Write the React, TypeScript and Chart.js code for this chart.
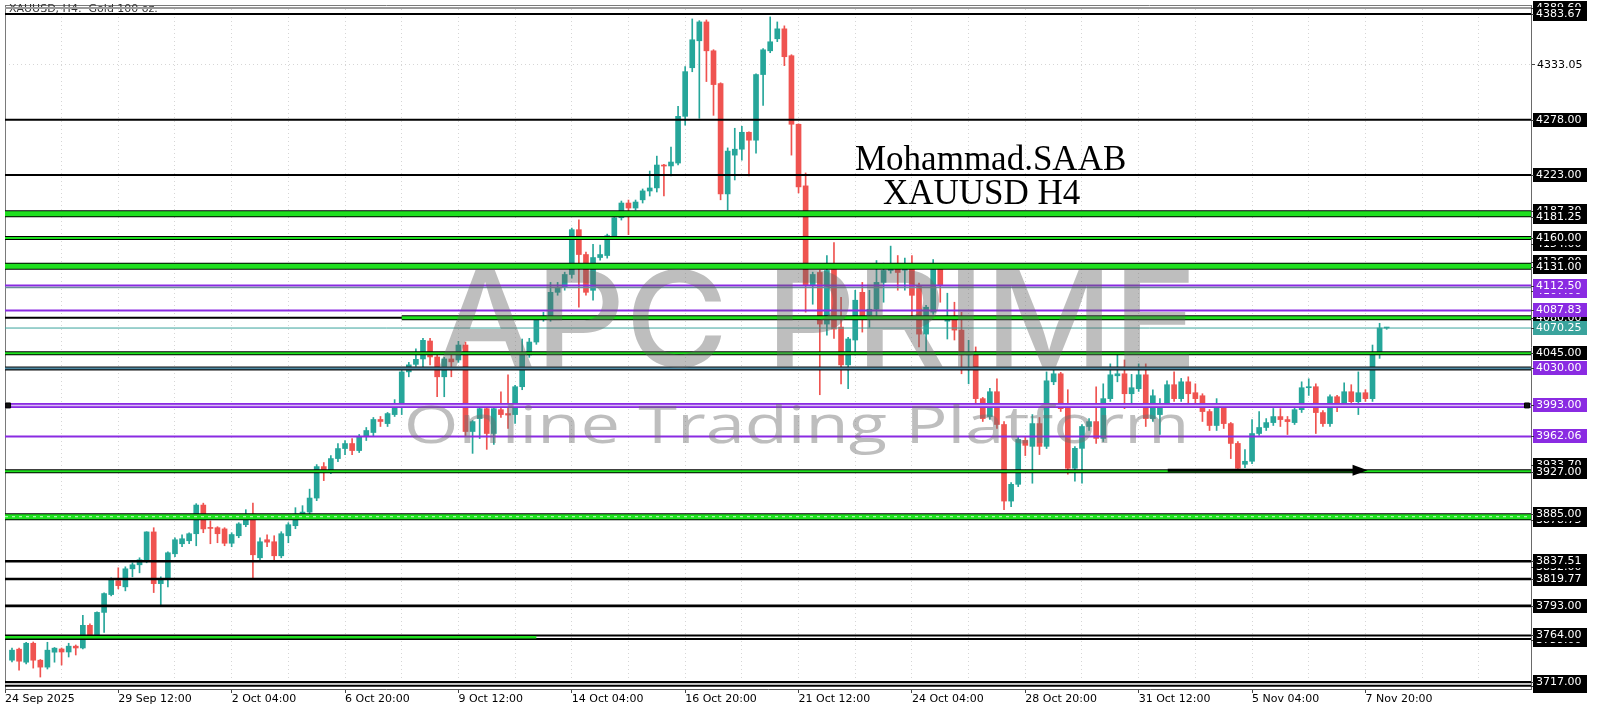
import React, { useEffect, useRef } from 'react';
import { Chart, registerables } from 'chart.js';

Chart.register(...registerables);

// ---------------- DATA ----------------
const OPEN = [
  3738.8, 3749.8, 3736.8, 3755.7, 3738.8, 3731.9, 3746.8, 3750.0, 3747.0, 3752.8,
  3751.0, 3773.6, 3763.5, 3786.5, 3804.3, 3818.2, 3812.0, 3830.0, 3834.0, 3838.0,
  3866.8, 3815.2, 3820.0, 3845.0, 3855.0, 3858.0, 3865.0, 3893.6, 3870.8, 3871.0,
  3869.8, 3855.5, 3863.0, 3874.0, 3884.6, 3841.0, 3859.0, 3857.0, 3843.0, 3863.0,
  3873.0, 3883.6, 3886.6, 3900.6, 3932.0, 3927.0, 3940.0, 3950.0, 3955.0, 3948.0,
  3962.0, 3966.0, 3979.0, 3974.9, 3983.9, 3991.8, 4026.5, 4034.0, 4039.4, 4057.3,
  4041.4, 4021.6, 4039.4, 4038.4, 4053.3, 3967.0, 3979.9, 3989.8, 3965.0, 3988.8,
  3984.9, 3983.9, 4011.7, 4043.4, 4056.3, 4079.1, 4079.1, 4105.9, 4110.9, 4123.7,
  4168.4, 4143.6, 4107.9, 4140.6, 4142.6, 4162.4, 4180.3, 4195.0, 4190.0, 4198.2,
  4207.0, 4210.1, 4232.9, 4232.0, 4234.9, 4281.5, 4330.0, 4356.9, 4375.7, 4346.9,
  4314.2, 4204.1, 4242.8, 4248.7, 4265.6, 4257.7, 4323.2, 4346.9, 4358.9, 4368.8,
  4342.0, 4273.6, 4212.1, 4112.9, 4125.7, 4074.2, 4128.7, 4071.2, 4033.5, 4058.3,
  4105.9, 4083.1, 4089.0, 4115.8, 4127.7, 4132.7, 4128.0, 4130.7, 4112.9, 4064.2,
  4086.1, 4129.7, 4077.1, 4082.1, 4068.2, 4043.4, 4044.4, 3999.8, 3981.9, 4006.7,
  3974.0, 3897.6, 3914.3, 3958.1, 3952.2, 3974.9, 3952.2, 4016.6, 4024.6, 3993.8,
  3930.3, 3950.2, 3972.0, 3976.9, 3960.1, 3999.8, 4022.6, 4024.6, 4004.7, 4009.7,
  4023.6, 3979.9, 3983.9, 3994.8, 4013.7, 3999.8, 4016.6, 4005.7, 4002.7, 3986.9,
  3973.0, 3990.8, 3974.9, 3955.1, 3934.3, 3937.3, 3965.0, 3971.0, 3975.9, 3981.9,
  3978.9, 3975.9, 3988.8, 4010.7, 4011.7, 3985.9, 3974.9, 4001.7, 3993.8, 4006.7,
  3996.8, 4005.7, 3999.8, 4044.4, 4070.25,
];
const HIGH = [
  3751, 3751, 3756.7, 3757, 3739.5, 3756.7, 3751.5, 3751, 3755.7, 3754,
  3783.5, 3775, 3787, 3806, 3821, 3831, 3832, 3836, 3841, 3867,
  3871, 3822, 3847, 3861, 3864, 3866, 3895, 3895.5, 3877.8, 3872,
  3871, 3866, 3876, 3889, 3895.6, 3861, 3864, 3863, 3867, 3876,
  3891, 3893, 3909.5, 3934, 3936, 3943, 3955, 3958, 3960, 3964,
  3971, 3981, 3982, 3986, 3998.8, 4028, 4036, 4049.4, 4060, 4060,
  4043, 4041, 4043, 4057, 4056.3, 3978, 3991, 3992, 3991, 4006.7,
  4023.6, 4013, 4059.3, 4060, 4080, 4086, 4115.8, 4115.8, 4126, 4170,
  4178.3, 4146, 4153.8, 4153, 4164, 4182, 4197, 4198, 4198, 4209,
  4226.9, 4241.8, 4233.5, 4250.7, 4291.4, 4331.1, 4378.7, 4377, 4377.7, 4348,
  4315, 4250, 4269.6, 4271.6, 4266, 4324, 4349, 4380.7, 4375.7, 4371.8,
  4343, 4274, 4225, 4126, 4128, 4142.6, 4155.5, 4100.9, 4061, 4107.9,
  4115.8, 4107.9, 4137.6, 4135, 4152, 4142.6, 4140, 4142.6, 4115, 4093,
  4138.6, 4131, 4105, 4096, 4086, 4058, 4051.4, 4001, 4010, 4019.6,
  3977, 3916, 3962, 3962, 3983.9, 3981, 4026.5, 4028.5, 4026, 4008.7,
  3952, 3974, 3980, 4011.7, 4014.6, 4034.5, 4043.4, 4038.4, 4024, 4034.5,
  4034.5, 4008.7, 3999.8, 4017.6, 4026.5, 4020, 4021.6, 4014.6, 4004.7, 3989,
  3999.8, 3992, 3976, 3957, 3949, 3978.9, 3986.9, 3979.9, 3990, 3989.8,
  3982, 3992, 4016.6, 4019.6, 4014.6, 3988, 4003.7, 4003, 4015.6, 4013.7,
  4026.5, 4008.7, 4053.3, 4075, 4071,
];
const LOW = [
  3737, 3728.9, 3735, 3730.9, 3722, 3730, 3736.8, 3734, 3742, 3744,
  3750, 3760, 3762, 3766.6, 3803, 3810, 3808, 3822, 3826, 3836,
  3806.3, 3793, 3812, 3842, 3852, 3855, 3853, 3866, 3855, 3856,
  3853, 3852, 3861, 3872, 3821, 3838, 3852, 3838, 3841, 3856,
  3870, 3880, 3884, 3898, 3918, 3925, 3937, 3944, 3944, 3946,
  3958, 3962, 3972, 3972, 3982, 3983.9, 4021.6, 4032, 4029.5, 4033.5,
  4001.7, 4001.7, 4021.6, 4036, 3962.1, 3945.2, 3960, 3949.2, 3954, 3981,
  3970, 3975, 4008.7, 4041, 4054, 4077, 4077, 4103, 4108, 4120,
  4091, 4103, 4098, 4138, 4140, 4160, 4178, 4163.4, 4188, 4195,
  4202, 4206, 4202.1, 4222, 4233, 4272.6, 4326, 4279.5, 4316.2, 4282.5,
  4198.2, 4188.3, 4218, 4237.8, 4222, 4244.8, 4292.4, 4345, 4356, 4332.1,
  4242.8, 4205.1, 4086.1, 4094, 4003.7, 4063.2, 4060, 4014.6, 4009.7, 4043.4,
  4066.2, 4071, 4079, 4096, 4125, 4108, 4108, 4080, 4051.4, 4044.4,
  4084, 4096, 4059.3, 4058.3, 4024.6, 4014.6, 3993.8, 3977, 3979, 3970,
  3889, 3892, 3912, 3943, 3915.4, 3944, 3950, 4013.7, 3987, 3924.4,
  3917.4, 3915.4, 3968, 3955, 3957, 3997, 4016.6, 3989.8, 3994.8, 4007,
  3972, 3977, 3964, 3993, 3997, 3997, 3994.8, 3993.8, 3977, 3968,
  3968, 3970, 3940, 3927, 3931, 3935, 3963, 3968, 3973, 3972,
  3964, 3974, 3986, 4003, 3965, 3972, 3972, 3986.9, 3991, 3991.8,
  3983.9, 3997, 3997, 4040, 4069,
];
const CLOSE = [
  3748.8, 3737.8, 3755.7, 3738.8, 3731.9, 3748.8, 3750.8, 3747.0, 3752.8, 3751.0,
  3773.6, 3762.7, 3786.5, 3805.3, 3819.2, 3813.2, 3830.0, 3834.0, 3839.0, 3866.8,
  3815.2, 3820.0, 3846.0, 3859.0, 3860.0, 3865.0, 3893.6, 3869.8, 3870.3, 3865.0,
  3855.5, 3864.2, 3874.8, 3882.6, 3844.0, 3857.0, 3856.6, 3843.0, 3865.0, 3874.0,
  3884.6, 3886.6, 3900.6, 3932.0, 3927.0, 3940.0, 3950.0, 3955.0, 3948.0, 3962.0,
  3968.0, 3979.0, 3977.0, 3984.9, 3991.8, 4026.5, 4033.5, 4039.0, 4058.0, 4041.4,
  4021.6, 4039.4, 4036.5, 4053.3, 3967.0, 3976.9, 3989.8, 3965.0, 3989.8, 3983.9,
  3983.4, 4011.7, 4043.4, 4056.3, 4078.1, 4080.1, 4105.9, 4110.9, 4123.7, 4168.4,
  4143.6, 4105.9, 4140.6, 4143.6, 4162.4, 4180.3, 4195.0, 4190.0, 4196.0, 4207.1,
  4210.0, 4232.9, 4231.9, 4235.9, 4281.5, 4326.1, 4357.9, 4375.7, 4346.9, 4313.2,
  4204.1, 4246.8, 4248.7, 4265.6, 4257.7, 4323.2, 4347.9, 4355.9, 4368.8, 4341.0,
  4273.6, 4211.1, 4112.9, 4123.7, 4074.2, 4127.7, 4069.2, 4033.5, 4059.3, 4098.0,
  4081.1, 4089.0, 4115.8, 4127.7, 4130.7, 4125.7, 4131.0, 4102.9, 4064.2, 4091.0,
  4128.7, 4112.9, 4082.1, 4068.2, 4043.4, 4044.4, 3999.8, 3979.9, 4006.7, 3974.0,
  3897.6, 3914.3, 3959.1, 3953.2, 3974.9, 3952.2, 4017.6, 4024.6, 3989.8, 3930.3,
  3950.2, 3972.0, 3976.9, 3960.1, 3999.8, 4023.6, 4024.6, 4004.7, 4010.7, 4023.6,
  3979.9, 4002.7, 3994.8, 4013.7, 3999.8, 4016.6, 4004.7, 3999.8, 3986.9, 3973.0,
  3990.8, 3974.9, 3955.1, 3930.3, 3937.3, 3965.0, 3971.0, 3975.9, 3981.9, 3978.9,
  3976.9, 3988.8, 4010.7, 4011.7, 3985.9, 3974.9, 4001.7, 3993.8, 4006.7, 3996.8,
  4005.7, 3999.8, 4043.4, 4070.25, 4070.25,
];

// x-axis: candle index positions of the time labels
const X_LABEL_POS = [-0.98, 15, 31, 47, 63, 79, 95, 111, 127, 143, 159, 175, 191];
const X_LABELS = [
  '24 Sep 2025', '29 Sep 12:00', '2 Oct 04:00', '6 Oct 20:00', '9 Oct 12:00', '14 Oct 04:00',
  '16 Oct 20:00', '21 Oct 12:00', '24 Oct 04:00', '28 Oct 20:00', '31 Oct 12:00', '5 Nov 04:00', '7 Nov 20:00',
];
const X_GRID_POS = [7, 23, 39, 55, 71, 87, 103, 119, 135, 151, 167, 183, 199, 207];
const Y_TICKS = [4333.05];

// horizontal levels grouped by kind
const GRAY_LEVELS = [4389.6];
const BLACK_LEVELS = [4383.67, 4278, 4223, 3763.5, 3760, 3717, 3713.2, 4080.6];
const HEAVY_BLACK_LEVELS = [3837.51, 3819.77, 3793];
const THIN_BANDS = [4160, 4045, 3927.3];
const WIDE_BANDS = [4184.2, 4132, 3882];
const PARTIAL_BANDS = [4080.6];
const PARTIAL_BAND_FROM = [55];
const PURPLE_LEVELS = [4112.8, 4087.83, 3962.06];
const PURPLE_DOUBLE = [3993];
const STEEL_LEVELS = [4110.7];
const BLACK_STEEL = [4030];
const GRAY_INNER = [3715.1];
const BID_LEVEL = [4070.25];
const GREEN_SEGMENTS = [3761.8];
const GREEN_SEGMENT_TO = [74];

const ARROW_FROM = 163.1;
const ARROW_TO = 191.3;
const ARROW_PRICE = 3928.3;
const MARKER_X = [-0.55, 213.8];
const MARKER_Y = [3993, 3993];

// price labels at right axis
const HIDDEN_LABEL_PRICES = [4389.6, 4187.3, 4154, 4136, 4107, 4080, 3933.7, 3878.75, 3832, 3759, 3713];
const HIDDEN_LABEL_KIND = ['k', 'k', 'k', 'k', 'p', 'k', 'k', 'k', 'k', 'k', 'k'];
const LABEL_PRICES = [4383.67, 4278, 4223, 4181.25, 4160, 4131, 4112.5, 4087.83, 4070.25, 4045, 4030, 3993, 3962.06, 3927, 3885, 3837.51, 3819.77, 3793, 3764, 3717];
const LABEL_KIND = ['k', 'k', 'k', 'k', 'k', 'k', 'p', 'p', 't', 'k', 'p', 'p', 'p', 'k', 'k', 'k', 'k', 'k', 'k', 'k'];

const HEADER = 'XAUUSD, H4:  Gold 100 oz.';
const AUTHOR = 'Mohammad.SAAB';
const SYMBOL_NOTE = 'XAUUSD H4';
const WM_TITLE = 'APC PRIME';
const WM_SUB = 'Online Trading Platform';

// ---------------- STYLE / LAYOUT ----------------
const X_MIN = -0.986;
const X_MAX = 214.366;
const Y_MIN = 3710.06;
const Y_MAX = 4392.6;

const UP = '#26a69a';
const DOWN = '#ef5350';
const LIME = '#1fe01f';
const PURPLE = '#8a2be2';
const TEAL = '#3aa39c';
const FONT = '"DejaVu Sans", "Liberation Sans", sans-serif';

function labelFor(v: number) {
  for (let i = 0; i < X_LABEL_POS.length; i++) if (Math.abs(X_LABEL_POS[i] - v) < 0.01) return X_LABELS[i];
  return '';
}

function fitText(ctx: CanvasRenderingContext2D, text: string, family: string, weight: string,
  x1: number, x2: number, capTop: number, baseline: number, color: string) {
  ctx.save();
  ctx.font = `${weight} 100px ${family}`;
  const capRatio = ctx.measureText('H').actualBoundingBoxAscent / 100 || 0.72;
  const size = (baseline - capTop) / capRatio;
  ctx.font = `${weight} ${size}px ${family}`;
  const m = ctx.measureText(text);
  const w = m.actualBoundingBoxLeft + m.actualBoundingBoxRight;
  const sx = (x2 - x1) / w;
  ctx.translate(x1, baseline);
  ctx.scale(sx, 1);
  ctx.fillStyle = color;
  ctx.textAlign = 'left';
  ctx.textBaseline = 'alphabetic';
  ctx.fillText(text, m.actualBoundingBoxLeft, 0);
  ctx.restore();
}

const overlayPlugin = {
  id: 'mt4overlay',
  beforeDatasetsDraw(chart: any) {
    const { ctx, chartArea } = chart;
    ctx.save();
    ctx.strokeStyle = '#7a7a7a';
    ctx.lineWidth = 1;
    ctx.beginPath();
    ctx.moveTo(chartArea.left + 0.5, chartArea.top);
    ctx.lineTo(chartArea.left + 0.5, chartArea.bottom);
    ctx.moveTo(chartArea.left, chartArea.top + 0.5);
    ctx.lineTo(chartArea.right, chartArea.top + 0.5);
    ctx.stroke();
    ctx.fillStyle = '#333';
    ctx.font = `11px ${FONT}`;
    ctx.textAlign = 'left';
    ctx.textBaseline = 'middle';
    ctx.fillText(HEADER, chartArea.left + 4, 9);
    ctx.restore();
  },
  afterDatasetsDraw(chart: any) {
    const { ctx, scales } = chart;
    const xs = scales.x, ys = scales.y;
    ctx.save();
    // arrow head
    const tx = xs.getPixelForValue(ARROW_TO);
    const ty = ys.getPixelForValue(ARROW_PRICE);
    ctx.fillStyle = '#000';
    ctx.beginPath();
    ctx.moveTo(tx, ty);
    ctx.lineTo(tx - 15, ty - 5.5);
    ctx.lineTo(tx - 15, ty + 5.5);
    ctx.closePath();
    ctx.fill();
    // watermark
    fitText(ctx, WM_TITLE, 'Inter, Lato, "Open Sans", sans-serif', '500', 439, 1189, 270, 367, 'rgba(100,100,100,0.42)');
    fitText(ctx, WM_SUB, '"Open Sans", Lato, sans-serif', '400', 408, 1184, 406, 443, 'rgba(110,110,110,0.45)');
    // author annotations
    ctx.fillStyle = '#000';
    ctx.font = '35px "Liberation Serif", "Times New Roman", serif';
    ctx.textAlign = 'left';
    ctx.textBaseline = 'alphabetic';
    ctx.fillText(AUTHOR, 855, 170);
    ctx.fillText(SYMBOL_NOTE, 883, 204);
    ctx.restore();
  },
  afterDraw(chart: any) {
    const { ctx, chartArea, scales } = chart;
    const ys = scales.y;
    const bx = chartArea.right + 2;
    ctx.save();
    ctx.font = `11px ${FONT}`;
    ctx.textAlign = 'left';
    ctx.textBaseline = 'middle';
    const draw = (price: number, kind: string) => {
      const y = Math.round(ys.getPixelForValue(price));
      ctx.fillStyle = kind === 'p' ? PURPLE : kind === 't' ? TEAL : '#000';
      ctx.fillRect(bx, y - 7, 54, 14);
      ctx.fillStyle = '#fff';
      ctx.fillText(price.toFixed(2), bx + 3, y + 0.5);
      ctx.fillStyle = '#333';
      ctx.fillRect(chartArea.right, y, 3, 1);
    };
    HIDDEN_LABEL_PRICES.forEach((p, i) => draw(p, HIDDEN_LABEL_KIND[i]));
    LABEL_PRICES.forEach((p, i) => draw(p, LABEL_KIND[i]));
    ctx.restore();
  },
};

function buildDatasets() {
  const idx = OPEN.map((_, i) => i);
  const colors = idx.map((i) => (CLOSE[i] >= OPEN[i] ? UP : DOWN));
  const ds: any[] = [];
  ds.push({
    type: 'bar', data: idx.map((i) => ({ x: i, y: [LOW[i], HIGH[i]] })),
    backgroundColor: colors, barThickness: 1, grouped: false, borderWidth: 0,
  });
  ds.push({
    type: 'bar', data: idx.map((i) => ({ x: i, y: [OPEN[i], CLOSE[i]] })),
    backgroundColor: colors, barThickness: 5, grouped: false, borderWidth: 0, minBarLength: 1,
  });
  const hline = (price: number, color: string, width: number, from = X_MIN, to = X_MAX, dash: number[] = []) => {
    ds.push({
      type: 'line', data: [{ x: from, y: price }, { x: to, y: price }],
      borderColor: color, borderWidth: width, pointRadius: 0, borderDash: dash, fill: false, tension: 0,
    });
  };
  GRAY_LEVELS.forEach((p) => hline(p, '#9a9a9a', 2));
  BLACK_LEVELS.forEach((p) => hline(p, '#000', 2));
  HEAVY_BLACK_LEVELS.forEach((p) => hline(p, '#000', 2.6));
  GRAY_INNER.forEach((p) => hline(p, '#b5b5b5', 1.5));
  GREEN_SEGMENTS.forEach((p, i) => hline(p, LIME, 2.5, X_MIN, GREEN_SEGMENT_TO[i]));
  THIN_BANDS.forEach((p) => { hline(p, '#000', 4); hline(p, LIME, 2); });
  WIDE_BANDS.forEach((p, i) => {
    hline(p, '#000', 7);
    hline(p, LIME, 5);
    if (i === 2) hline(p, '#a8f5a8', 1.2, X_MIN, X_MAX, [3, 4]);
  });
  PARTIAL_BANDS.forEach((p, i) => { hline(p, '#000', 5, PARTIAL_BAND_FROM[i]); hline(p, LIME, 3, PARTIAL_BAND_FROM[i]); });
  PURPLE_LEVELS.forEach((p) => hline(p, PURPLE, 2));
  STEEL_LEVELS.forEach((p) => hline(p, '#6b8e9a', 1.5));
  BLACK_STEEL.forEach((p) => { hline(p, '#111', 4); hline(p, '#4d89a3', 1.8); });
  PURPLE_DOUBLE.forEach((p) => { hline(p, PURPLE, 5); hline(p, '#d9bdf7', 1.5); });
  BID_LEVEL.forEach((p) => hline(p, TEAL, 1));
  ds.push({
    type: 'line', data: [{ x: ARROW_FROM, y: ARROW_PRICE }, { x: ARROW_TO - 1.5, y: ARROW_PRICE }],
    borderColor: '#000', borderWidth: 3, pointRadius: 0, fill: false,
  });
  ds.push({
    type: 'line', data: MARKER_X.map((x, i) => ({ x, y: MARKER_Y[i] })), showLine: false,
    pointStyle: 'rect', pointRadius: 3.5, pointBackgroundColor: '#111', pointBorderColor: '#000', pointBorderWidth: 1,
  });
  ds.forEach((d, k) => { d.order = ds.length - k; });
  return ds;
}

export default function App() {
  const ref = useRef<HTMLCanvasElement>(null);
  useEffect(() => {
    document.body.style.margin = '0';
    const canvas = ref.current;
    if (!canvas) return;
    const gridCommon = {
      color: 'rgba(0,0,0,0.16)', lineWidth: 1, tickLength: 4, tickWidth: 1, tickBorderDash: [], offset: false,
    };
    const chart = new Chart(canvas, {
      type: 'bar',
      data: { datasets: buildDatasets() },
      plugins: [overlayPlugin],
      options: {
        responsive: false,
        animation: false,
        devicePixelRatio: 1,
        events: [],
        layout: { padding: { left: 2, top: 1, right: 0, bottom: 0 } },
        plugins: { legend: { display: false }, tooltip: { enabled: false } },
        scales: {
          x: {
            type: 'linear', min: X_MIN, max: X_MAX, offset: false, bounds: 'data',
            afterBuildTicks: (s: any) => {
              s.ticks = [...X_LABEL_POS, ...X_GRID_POS].sort((a, b) => a - b).map((v) => ({ value: v }));
            },
            afterFit: (s: any) => { s.height = 22; s.paddingLeft = 0; s.paddingRight = 0; },
            ticks: {
              autoSkip: false, maxRotation: 0, minRotation: 0, align: 'start', padding: 0,
              color: '#000', font: { family: FONT, size: 11 },
              callback: (v: any) => labelFor(Number(v)),
            },
            grid: {
              ...gridCommon,
              tickColor: (c: any) => (c.tick && labelFor(c.tick.value) ? '#444' : 'rgba(0,0,0,0)'),
            },
            border: { display: true, color: '#5a5a5a', width: 1, dash: [1, 3] },
          },
          y: {
            type: 'linear', position: 'right', min: Y_MIN, max: Y_MAX, bounds: 'data',
            afterBuildTicks: (s: any) => { s.ticks = Y_TICKS.map((v) => ({ value: v })); },
            afterFit: (s: any) => { s.width = 69; s.paddingTop = 0; s.paddingBottom = 0; },
            ticks: {
              padding: 2, color: '#000', font: { family: FONT, size: 11 },
              callback: (v: any) => Number(v).toFixed(2),
            },
            grid: { ...gridCommon, tickColor: '#444' },
            border: { display: true, color: '#6a6a6a', width: 1, dash: [1, 3] },
          },
        },
      } as any,
    } as any);
    return () => chart.destroy();
  }, []);
  return (
    <div style={{ width: 1600, height: 711, background: '#fff' }}>
      <canvas ref={ref} width={1600} height={711} style={{ display: 'block' }} />
    </div>
  );
}
